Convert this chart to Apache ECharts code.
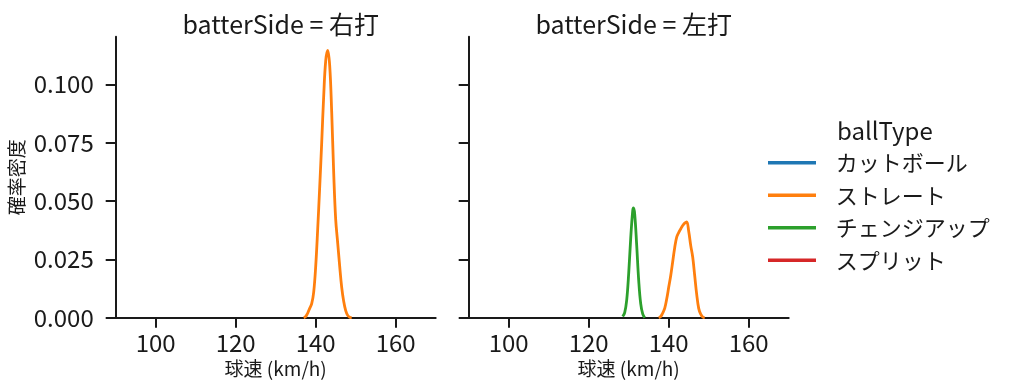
<!DOCTYPE html>
<html><head><meta charset="utf-8">
<script src="https://cdn.jsdelivr.net/npm/echarts@6/dist/echarts.min.js"></script>
<style>html,body{margin:0;padding:0;background:#fff}#c{width:1014px;height:391px}</style>
</head><body><div id="c"></div>
<script>
const panels = ['batterSide = 右打', 'batterSide = 左打'];
const ballTypes = ['カットボール', 'ストレート', 'チェンジアップ', 'スプリット'];
const colors = ['#1f77b4', '#ff7f0e', '#2ca02c', '#d62728'];
const xTicks = [100, 120, 140, 160];
const yTicks = [0, 0.025, 0.05, 0.075, 0.1];
const yTickLabels = ['0.000', '0.025', '0.050', '0.075', '0.100'];

// 右打 ストレート
const rStraightX = [137.0,137.5,138.0,138.5,139.0,139.5,140.0,140.5,141.0,141.5,142.0,142.5,143.0,143.5,144.0,144.5,145.0,145.5,146.0,146.5,147.0,147.5,148.0,148.5,149.0];
const rStraightY = [0,0.0005,0.002,0.004,0.006,0.011,0.022,0.038,0.056,0.075,0.095,0.110,0.1145,0.108,0.088,0.062,0.042,0.032,0.022,0.013,0.007,0.003,0.001,0.0002,0];
// 左打 ストレート
const lStraightX = [137.5,138.0,138.5,139.0,139.5,140.0,140.5,141.0,141.5,142.0,142.5,143.0,143.5,144.0,144.5,145.0,145.5,146.0,146.5,147.0,147.5,148.0,148.5,149.0];
const lStraightY = [0,0.0005,0.002,0.004,0.008,0.013,0.018,0.024,0.030,0.0345,0.0365,0.038,0.0395,0.0405,0.041,0.037,0.031,0.026,0.018,0.010,0.004,0.0015,0.0003,0];
// 左打 チェンジアップ
const lChangeX = [128.5,129.0,129.5,130.0,130.5,131.0,131.2,131.5,132.0,132.5,133.0,133.5,134.0];
const lChangeY = [0.0005,0.0022,0.0075,0.019,0.034,0.0458,0.047,0.0444,0.031,0.016,0.006,0.0016,0];

const pair = (xs, ys) => xs.map((x, i) => [x, ys[i]]);
const ink = '#1a1a1a';
const font = '"Noto Sans CJK JP", "Noto Sans", sans-serif';
const gridL = [115.7, 468.7];

const grids = gridL.map(l => ({left: l, top: 36.7, width: 320, height: 281}));
const xAxes = gridL.map((l, i) => ({
  type: 'value', gridIndex: i, min: 90, max: 170,
  name: '球速 (km/h)', nameLocation: 'middle', nameGap: 42,
  nameTextStyle: {fontFamily: font, fontSize: 19, color: ink},
  axisLine: {show: true, onZero: false, lineStyle: {color: ink, width: 2}},
  axisTick: {show: true, length: 10, lineStyle: {color: ink, width: 2}, customValues: xTicks},
  axisLabel: {show: true, customValues: xTicks, fontFamily: font, fontSize: 24, color: ink, margin: 13},
  splitLine: {show: false}
}));
const yAxes = gridL.map((l, i) => ({
  type: 'value', gridIndex: i, min: 0, max: 0.1204,
  name: i === 0 ? '確率密度' : '', nameLocation: 'middle', nameGap: 89,
  nameTextStyle: {fontFamily: font, fontSize: 19, color: ink},
  axisLine: {show: true, lineStyle: {color: ink, width: 2}},
  axisTick: {show: true, length: 10, lineStyle: {color: ink, width: 2}, customValues: yTicks},
  axisLabel: {show: i === 0, customValues: yTicks, fontFamily: font, fontSize: 24, color: ink, margin: 22,
    formatter: v => { const k = yTicks.findIndex(t => Math.abs(t - v) < 1e-9); return k >= 0 ? yTickLabels[k] : ''; }},
  splitLine: {show: false}
}));

const mk = (name, gi, data) => ({
  type: 'line', name, xAxisIndex: gi, yAxisIndex: gi, data, smooth: 0.4,
  symbol: 'none', showSymbol: false, color: colors[ballTypes.indexOf(name)],
  lineStyle: {width: 2.8}, z: 3
});
const series = [
  mk('カットボール', 0, []),
  mk('ストレート', 0, pair(rStraightX, rStraightY)),
  mk('チェンジアップ', 1, pair(lChangeX, lChangeY)),
  mk('ストレート', 1, pair(lStraightX, lStraightY)),
  mk('スプリット', 1, [])
];

const chart = echarts.init(document.getElementById('c'), null, {renderer: 'canvas'});
chart.setOption({
  animation: false,
  backgroundColor: '#fff',
  title: [
    {text: panels[0], left: 275.7, top: 7, textAlign: 'center', textStyle: {fontFamily: font, fontSize: 25, fontWeight: 'normal', color: ink}},
    {text: panels[1], left: 628.7, top: 7, textAlign: 'center', textStyle: {fontFamily: font, fontSize: 25, fontWeight: 'normal', color: ink}},
    {text: 'ballType', left: 832, top: 114, textStyle: {fontFamily: font, fontSize: 24, fontWeight: 'normal', color: ink}}
  ],
  grid: grids, xAxis: xAxes, yAxis: yAxes, series,
  legend: {
    data: ballTypes, orient: 'vertical', left: 768, top: 151.7, padding: 0,
    icon: 'rect', itemWidth: 48, itemHeight: 3.5, itemGap: 10.5, selectedMode: false,
    textStyle: {fontFamily: font, fontSize: 22, color: ink, lineHeight: 22, padding: [0, 0, 0, 14.7]}
  }
});
</script></body></html>
